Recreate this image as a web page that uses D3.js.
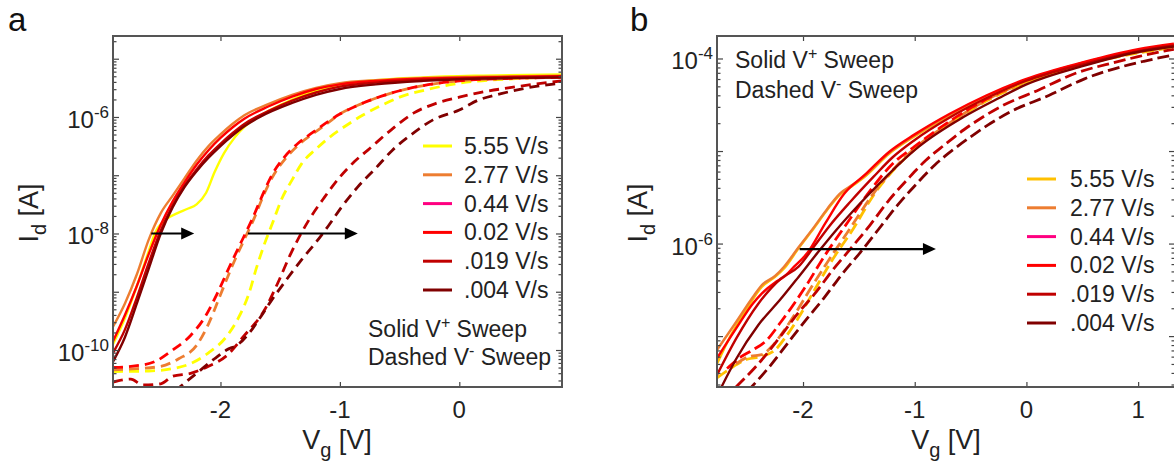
<!DOCTYPE html>
<html>
<head>
<meta charset="utf-8">
<script src="https://cdn.jsdelivr.net/npm/d3@7"></script>
<style>
  body { margin: 0; background: #fff; }
  svg { display: block; font-family: "Liberation Sans", Arial, sans-serif; }
</style>
</head>
<body>
<svg id="chart" width="1174" height="466"></svg>
<script>
// legend categories (scan rates)
var rates = ["5.55 V/s", "2.77 V/s", "0.44 V/s", "0.02 V/s", ".019 V/s", ".004 V/s"];
var colorsA = ["#ffff00", "#ed7d31", "#ff0080", "#ff0000", "#c00000", "#800000"];
var colorsB = ["#ffc000", "#ed7d31", "#ff0080", "#ff0000", "#c00000", "#800000"];

// tick values
var xTicksA = [-2, -1, 0];
var xTicksB = [-2, -1, 0, 1];
var yLabelExpA = [-10, -8, -6];
var yLabelExpB = [-6, -4];

// panel a, [Vg (V), log10 Id (A)] -- forward (solid) sweeps
var aF555 = [[-2.9,-9.9],[-2.8,-9.45],[-2.7,-8.9],[-2.6,-8.3],[-2.55,-8.0],[-2.45,-7.75],[-2.36,-7.65],[-2.28,-7.58],[-2.2,-7.5],[-2.12,-7.3],[-2.05,-6.95],[-1.97,-6.62],[-1.88,-6.35],[-1.8,-6.17],[-1.7,-6.02],[-1.6,-5.9],[-1.4,-5.7],[-1.2,-5.55],[-1.0,-5.45],[-0.7,-5.37],[-0.3,-5.32],[0.2,-5.29],[0.86,-5.27]];
var aF277 = [[-2.9,-9.6],[-2.8,-9.2],[-2.7,-8.7],[-2.6,-8.1],[-2.5,-7.65],[-2.4,-7.35],[-2.3,-7.05],[-2.2,-6.75],[-2.1,-6.5],[-2.0,-6.3],[-1.9,-6.12],[-1.8,-5.97],[-1.6,-5.78],[-1.4,-5.62],[-1.2,-5.5],[-1.0,-5.42],[-0.7,-5.37],[-0.3,-5.33],[0.2,-5.31],[0.86,-5.29]];
var aF044 = [];
var aF002 = [[-2.9,-9.85],[-2.8,-9.4],[-2.7,-8.9],[-2.6,-8.35],[-2.5,-7.85],[-2.4,-7.45],[-2.3,-7.12],[-2.2,-6.82],[-2.1,-6.57],[-2.0,-6.36],[-1.9,-6.18],[-1.8,-6.03],[-1.6,-5.82],[-1.4,-5.65],[-1.2,-5.52],[-1.0,-5.44],[-0.7,-5.38],[-0.3,-5.34],[0.2,-5.32],[0.86,-5.3]];
var aF019 = [[-2.9,-10.05],[-2.8,-9.65],[-2.7,-9.1],[-2.6,-8.5],[-2.5,-7.95],[-2.4,-7.52],[-2.3,-7.18],[-2.2,-6.9],[-2.1,-6.66],[-2.0,-6.46],[-1.9,-6.28],[-1.8,-6.12],[-1.6,-5.9],[-1.4,-5.72],[-1.2,-5.58],[-1.0,-5.48],[-0.7,-5.41],[-0.3,-5.36],[0.2,-5.33],[0.86,-5.31]];
var aF004 = [[-2.9,-10.2],[-2.8,-9.78],[-2.7,-9.2],[-2.6,-8.6],[-2.5,-8.0],[-2.4,-7.55],[-2.3,-7.2],[-2.2,-6.93],[-2.1,-6.7],[-2.0,-6.5],[-1.9,-6.32],[-1.8,-6.16],[-1.67,-6.0],[-1.4,-5.76],[-1.2,-5.62],[-1.0,-5.52],[-0.7,-5.44],[-0.3,-5.38],[0.2,-5.34],[0.86,-5.32]];

// panel a -- reverse (dashed) sweeps
var aR555 = [[-2.9,-10.37],[-2.6,-10.36],[-2.4,-10.32],[-2.27,-10.25],[-2.1,-10.05],[-1.95,-9.77],[-1.85,-9.45],[-1.76,-9.02],[-1.7,-8.6],[-1.63,-8.17],[-1.56,-7.8],[-1.49,-7.42],[-1.4,-7.08],[-1.32,-6.8],[-1.2,-6.55],[-1.1,-6.37],[-0.95,-6.15],[-0.81,-5.97],[-0.65,-5.8],[-0.5,-5.66],[-0.25,-5.52],[0,-5.42],[0.4,-5.35],[0.86,-5.31]];
var aR277 = [[-2.9,-10.34],[-2.7,-10.32],[-2.5,-10.28],[-2.35,-10.15],[-2.2,-9.92],[-2.1,-9.55],[-2.0,-9.05],[-1.9,-8.55],[-1.8,-8.1],[-1.72,-7.75],[-1.63,-7.3],[-1.55,-6.98],[-1.45,-6.7],[-1.33,-6.45],[-1.22,-6.28],[-1.1,-6.1],[-1.0,-5.95],[-0.85,-5.8],[-0.69,-5.67],[-0.5,-5.55],[-0.3,-5.46],[0,-5.38],[0.4,-5.34],[0.86,-5.32]];
var aR044 = [];
var aR002 = [[-2.9,-10.3],[-2.7,-10.27],[-2.55,-10.2],[-2.4,-10.0],[-2.25,-9.75],[-2.12,-9.4],[-2.02,-9.0],[-1.92,-8.55],[-1.82,-8.12],[-1.74,-7.78],[-1.65,-7.35],[-1.57,-7.0],[-1.47,-6.7],[-1.35,-6.45],[-1.23,-6.27],[-1.1,-6.08],[-1.0,-5.95],[-0.85,-5.8],[-0.69,-5.67],[-0.5,-5.55],[-0.3,-5.46],[0,-5.38],[0.4,-5.34],[0.86,-5.32]];
var aR019 = [[-2.9,-10.55],[-2.75,-10.5],[-2.65,-10.6],[-2.5,-10.58],[-2.4,-10.45],[-2.25,-10.4],[-2.1,-10.28],[-1.95,-10.1],[-1.8,-9.75],[-1.63,-9.31],[-1.52,-8.85],[-1.41,-8.34],[-1.33,-8.02],[-1.26,-7.77],[-1.13,-7.38],[-1.0,-7.03],[-0.88,-6.77],[-0.75,-6.54],[-0.57,-6.22],[-0.38,-5.93],[-0.2,-5.77],[0,-5.66],[0.2,-5.57],[0.41,-5.5],[0.86,-5.38]];
var aR004 = [[-2.38,-10.7],[-2.2,-10.4],[-2.05,-10.15],[-1.95,-10.0],[-1.85,-9.9],[-1.76,-9.71],[-1.67,-9.45],[-1.57,-9.14],[-1.45,-8.8],[-1.32,-8.45],[-1.2,-8.15],[-1.1,-7.88],[-0.98,-7.53],[-0.85,-7.2],[-0.7,-6.88],[-0.56,-6.57],[-0.4,-6.3],[-0.22,-6.05],[0,-5.88],[0.16,-5.71],[0.35,-5.6],[0.57,-5.5],[0.86,-5.42]];

// panel b -- forward (solid) sweeps
var bF555 = [[-2.77,-7.3],[-2.65,-7.0],[-2.5,-6.7],[-2.37,-6.47],[-2.25,-6.36],[-2.17,-6.27],[-2.04,-6.05],[-1.9,-5.83],[-1.78,-5.63],[-1.67,-5.47],[-1.55,-5.37],[-1.44,-5.27],[-1.23,-5.03],[-1.0,-4.84],[-0.69,-4.62],[-0.36,-4.42],[0,-4.25],[0.51,-4.07],[1.0,-3.93],[1.32,-3.87]];
var bF277 = [[-2.77,-7.15],[-2.6,-6.85],[-2.45,-6.58],[-2.37,-6.45],[-2.25,-6.35],[-2.17,-6.25],[-2.04,-6.04],[-1.9,-5.82],[-1.78,-5.62],[-1.67,-5.46],[-1.55,-5.36],[-1.44,-5.26],[-1.23,-5.02],[-1.0,-4.83],[-0.69,-4.61],[-0.36,-4.41],[0,-4.23],[0.51,-4.05],[1.0,-3.91],[1.32,-3.85]];
var bF044 = [];
var bF002 = [[-2.77,-7.24],[-2.6,-6.92],[-2.45,-6.65],[-2.37,-6.54],[-2.25,-6.42],[-2.17,-6.36],[-2.08,-6.25],[-1.96,-6.1],[-1.8,-5.78],[-1.63,-5.46],[-1.44,-5.25],[-1.23,-5.01],[-1.0,-4.82],[-0.69,-4.6],[-0.36,-4.4],[0,-4.22],[0.51,-4.04],[1.0,-3.9],[1.32,-3.84]];
var bF019 = [[-2.77,-7.42],[-2.6,-7.03],[-2.4,-6.65],[-2.2,-6.38],[-2.04,-6.25],[-1.9,-6.03],[-1.77,-5.82],[-1.57,-5.54],[-1.37,-5.28],[-1.2,-5.07],[-1.0,-4.88],[-0.69,-4.64],[-0.36,-4.43],[0,-4.24],[0.51,-4.06],[1.0,-3.92],[1.32,-3.86]];
var bF004 = [[-2.73,-7.55],[-2.6,-7.25],[-2.4,-6.88],[-2.2,-6.6],[-2.04,-6.36],[-1.87,-6.1],[-1.7,-5.85],[-1.5,-5.58],[-1.3,-5.33],[-1.13,-5.13],[-0.96,-4.95],[-0.56,-4.63],[-0.25,-4.43],[0,-4.28],[0.51,-4.08],[1.0,-3.93],[1.32,-3.87]];

// panel b -- reverse (dashed) sweeps
var bR555 = [[-2.77,-7.45],[-2.65,-7.35],[-2.5,-7.25],[-2.37,-7.22],[-2.25,-7.15],[-2.15,-7.0],[-2.04,-6.8],[-1.92,-6.55],[-1.75,-6.2],[-1.55,-5.84],[-1.37,-5.48],[-1.17,-5.18],[-1.0,-4.98],[-0.69,-4.71],[-0.36,-4.46],[0,-4.26],[0.5,-4.07],[1.0,-3.94],[1.32,-3.88]];
var bR277 = [[-2.6,-7.3],[-2.48,-7.22],[-2.37,-7.2],[-2.27,-7.1],[-2.17,-6.94],[-2.06,-6.74],[-1.96,-6.54],[-1.77,-6.18],[-1.57,-5.82],[-1.37,-5.46],[-1.17,-5.17],[-1.0,-4.97],[-0.69,-4.7],[-0.36,-4.45],[0,-4.25],[0.5,-4.06],[1.0,-3.93],[1.32,-3.87]];
var bR044 = [];
var bR002 = [[-2.68,-7.35],[-2.55,-7.22],[-2.45,-7.15],[-2.33,-7.05],[-2.2,-6.85],[-2.08,-6.65],[-1.98,-6.47],[-1.8,-6.12],[-1.6,-5.77],[-1.4,-5.43],[-1.2,-5.14],[-1.0,-4.95],[-0.69,-4.68],[-0.36,-4.44],[0,-4.24],[0.5,-4.05],[1.0,-3.92],[1.32,-3.86]];
var bR019 = [[-2.6,-7.55],[-2.4,-7.3],[-2.2,-7.0],[-2.05,-6.76],[-1.9,-6.55],[-1.73,-6.28],[-1.57,-6.05],[-1.4,-5.8],[-1.23,-5.53],[-1.06,-5.3],[-0.9,-5.1],[-0.73,-4.93],[-0.56,-4.77],[-0.4,-4.64],[-0.23,-4.52],[0.11,-4.34],[0.44,-4.16],[0.8,-4.04],[1.0,-3.98],[1.32,-3.9]];
var bR004 = [[-2.5,-7.6],[-2.3,-7.33],[-2.12,-7.05],[-1.97,-6.82],[-1.82,-6.6],[-1.65,-6.33],[-1.49,-6.1],[-1.32,-5.84],[-1.15,-5.58],[-0.98,-5.35],[-0.82,-5.15],[-0.65,-4.98],[-0.48,-4.83],[-0.32,-4.7],[-0.15,-4.58],[0.2,-4.4],[0.52,-4.22],[0.85,-4.09],[1.05,-4.03],[1.32,-3.96]];

// shift arrows: [[Vg start, Vg end], log10 Id]
var arrowsA = [[[-2.58, -2.22], -8], [[-1.77, -0.85], -8]];
var arrowsB = [[[-2.03, -0.81], -6.06]];

var svg = d3.select("#chart");

function drawPanel(p) {
    var x = d3.scaleLinear().domain(p.xDomain).range([p.left, p.right]);
    var y = d3.scaleLog().domain(p.yDomain).range([p.bottom, p.top]);
    var g = svg.append("g");

    g.append("clipPath").attr("id", p.id + "clip")
        .append("rect")
        .attr("x", p.left).attr("y", p.top)
        .attr("width", p.right - p.left).attr("height", p.bottom - p.top);

    var line = d3.line()
        .x(function (d) { return x(d[0]); })
        .y(function (d) { return y(Math.pow(10, d[1])); })
        .curve(d3.curveMonotoneX);

    var curves = g.append("g").attr("clip-path", "url(#" + p.id + "clip)");

    // dashed reverse sweeps first, solid on top
    p.rev.forEach(function (s, i) {
        if (!s.length) return;
        curves.append("path")
            .attr("d", line(s))
            .attr("fill", "none")
            .attr("stroke", p.colors[i])
            .attr("stroke-width", 2.8)
            .attr("stroke-dasharray", p.dash);
    });
    p.fwd.forEach(function (s, i) {
        if (!s.length) return;
        curves.append("path")
            .attr("d", line(s))
            .attr("fill", "none")
            .attr("stroke", p.colors[i])
            .attr("stroke-width", 2.4);
    });

    // axes: ticks inward on all four sides
    var decades = d3.range(Math.ceil(Math.log10(p.yDomain[0])), Math.floor(Math.log10(p.yDomain[1])) + 1);
    var major = decades.map(function (e) { return Math.pow(10, e); });
    var minor = [];
    d3.range(Math.floor(Math.log10(p.yDomain[0])), Math.ceil(Math.log10(p.yDomain[1]))).forEach(function (e) {
        for (var k = 2; k < 10; k++) {
            var v = k * Math.pow(10, e);
            if (v > p.yDomain[0] && v < p.yDomain[1]) minor.push(v);
        }
    });

    function styleAxis(sel) {
        sel.select(".domain").remove();
        sel.selectAll("line").attr("stroke", "#444").attr("stroke-width", 1.2);
        sel.selectAll("text").remove();
    }

    g.append("g").attr("transform", "translate(" + p.left + ",0)")
        .call(d3.axisLeft(y).tickValues(major).tickSize(-6)).call(styleAxis);
    g.append("g").attr("transform", "translate(" + p.left + ",0)")
        .call(d3.axisLeft(y).tickValues(minor).tickSize(-3.5)).call(styleAxis);
    g.append("g").attr("transform", "translate(" + p.right + ",0)")
        .call(d3.axisRight(y).tickValues(major).tickSize(-6)).call(styleAxis);
    g.append("g").attr("transform", "translate(" + p.right + ",0)")
        .call(d3.axisRight(y).tickValues(minor).tickSize(-3.5)).call(styleAxis);
    g.append("g").attr("transform", "translate(0," + p.bottom + ")")
        .call(d3.axisBottom(x).tickValues(p.xTicks).tickSize(-5)).call(styleAxis);
    g.append("g").attr("transform", "translate(0," + p.top + ")")
        .call(d3.axisTop(x).tickValues(p.xTicks).tickSize(-5)).call(styleAxis);

    g.append("rect")
        .attr("x", p.left).attr("y", p.top)
        .attr("width", p.right - p.left).attr("height", p.bottom - p.top)
        .attr("fill", "none").attr("stroke", "#555").attr("stroke-width", 2);

    // x tick labels
    g.selectAll(".xl").data(p.xTicks).enter().append("text")
        .attr("x", function (d) { return x(d); })
        .attr("y", p.bottom + 31)
        .attr("text-anchor", "middle")
        .attr("font-size", 24).attr("fill", "#222")
        .text(function (d) { return d; });

    // y tick labels 10^n
    var yl = g.selectAll(".yl").data(p.yLabels).enter().append("text")
        .attr("x", p.left - 4)
        .attr("y", function (d) { return y(Math.pow(10, d)) + 11; })
        .attr("text-anchor", "end")
        .attr("font-size", 24).attr("fill", "#222");
    yl.append("tspan").text("10");
    yl.append("tspan").attr("dy", -10).attr("font-size", 17).text(function (d) { return d; });

    // axis titles
    var xt = g.append("text")
        .attr("x", p.xTitleX).attr("y", 449)
        .attr("text-anchor", "middle")
        .attr("font-size", 27).attr("fill", "#222");
    xt.append("tspan").text("V");
    xt.append("tspan").attr("dy", 8).attr("font-size", 20).text("g");
    xt.append("tspan").attr("dy", -8).text(" [V]");

    var yt = g.append("text")
        .attr("transform", "translate(" + p.yTitleX + ",213) rotate(-90)")
        .attr("text-anchor", "middle")
        .attr("font-size", 27).attr("fill", "#222");
    yt.append("tspan").text("I");
    yt.append("tspan").attr("dy", 8).attr("font-size", 20).text("d");
    yt.append("tspan").attr("dy", -8).text(" [A]");

    // panel letter
    g.append("text")
        .attr("x", p.letterX).attr("y", 31)
        .attr("font-size", 33).attr("fill", "#111")
        .text(p.letter);

    // legend
    var leg = g.selectAll(".leg").data(rates).enter().append("g")
        .attr("transform", function (d, i) { return "translate(" + p.legX + "," + (p.legY + i * 28.8) + ")"; });
    leg.append("line")
        .attr("x1", 0).attr("x2", 29)
        .attr("stroke", function (d, i) { return p.colors[i]; })
        .attr("stroke-width", 3);
    leg.append("text")
        .attr("x", p.legTextDx).attr("y", 8)
        .attr("font-size", 23).attr("fill", "#222")
        .text(function (d) { return d; });

    // sweep note
    [["Solid V", "+", " Sweep"], ["Dashed V", "-", " Sweep"]].forEach(function (t, i) {
        var nt = g.append("text")
            .attr("x", p.noteX).attr("y", p.noteY + i * p.noteDy)
            .attr("font-size", 23).attr("fill", "#222");
        nt.append("tspan").text(t[0]);
        nt.append("tspan").attr("dy", -9).attr("font-size", 16).text(t[1]);
        nt.append("tspan").attr("dy", 9).text(t[2]);
    });

    // arrows
    p.arrows.forEach(function (a) {
        var x0 = x(a[0][0]), x1 = x(a[0][1]), yy = y(Math.pow(10, a[1]));
        g.append("line")
            .attr("x1", x0).attr("x2", x1 - 10)
            .attr("y1", yy).attr("y2", yy)
            .attr("stroke", "#000").attr("stroke-width", 2.2);
        g.append("path")
            .attr("d", "M" + x1 + "," + yy + "L" + (x1 - 13) + "," + (yy - 6) + "L" + (x1 - 13) + "," + (yy + 6) + "Z")
            .attr("fill", "#000");
    });
}

drawPanel({
    id: "a", letter: "a", letterX: 8,
    left: 113, right: 562, top: 36, bottom: 387,
    xDomain: [-2.9, 0.86], yDomain: [Math.pow(10, -10.635), Math.pow(10, -4.61)],
    xTicks: xTicksA, yLabels: yLabelExpA,
    colors: colorsA, dash: "10,6",
    fwd: [aF555, aF277, aF044, aF002, aF019, aF004],
    rev: [aR555, aR277, aR044, aR002, aR019, aR004],
    xTitleX: 337, yTitleX: 38,
    legX: 423, legY: 146, legTextDx: 41,
    noteX: 368, noteY: 337, noteDy: 28,
    arrows: arrowsA
});

drawPanel({
    id: "b", letter: "b", letterX: 630,
    left: 717, right: 1175, top: 36, bottom: 387,
    xDomain: [-2.77, 1.33], yDomain: [Math.pow(10, -7.55), Math.pow(10, -3.757)],
    xTicks: xTicksB, yLabels: yLabelExpB,
    colors: colorsB, dash: "12,5",
    fwd: [bF555, bF277, bF044, bF002, bF019, bF004],
    rev: [bR555, bR277, bR044, bR002, bR019, bR004],
    xTitleX: 946, yTitleX: 647,
    legX: 1027, legY: 179, legTextDx: 43,
    noteX: 735, noteY: 68, noteDy: 30,
    arrows: arrowsB
});
</script>
</body>
</html>
